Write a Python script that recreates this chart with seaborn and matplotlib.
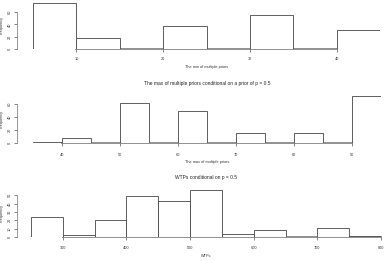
import numpy as np
import matplotlib
matplotlib.use("Agg")
import matplotlib.pyplot as plt
import seaborn as sns

sns.set_style("white")
plt.rcParams['font.family'] = ['Liberation Sans', 'DejaVu Sans']

# Panel 1: min of multiple priors
edges1 = [5, 10, 15, 20, 25, 30, 35, 40, 45]
counts1 = [75, 18, 0, 38, 0, 55, 0, 31]
xticks1 = [10, 20, 30, 40]
yticks1 = [0, 20, 40, 60]

# Panel 2: max of multiple priors conditional on p = 0.5
edges2 = [35, 40, 45, 50, 55, 60, 65, 70, 75, 80, 85, 90, 95]
counts2 = [1, 7, 0, 61, 0, 49, 0, 15, 0, 15, 0, 72]
xticks2 = [40, 50, 60, 70, 80, 90]
yticks2 = [0, 20, 40, 60]

# Panel 3: WTPs conditional on p = 0.5
edges3 = [250, 300, 350, 400, 450, 500, 550, 600, 650, 700, 750, 800]
counts3 = [24, 2, 20, 49, 43, 56, 4, 8, 0, 11, 1]
xticks3 = [300, 400, 500, 600, 700, 800]
yticks3 = [0, 10, 20, 30, 40, 50]

W, H = 387, 261
fig = plt.figure(figsize=(W / 100, H / 100), dpi=100)

panels = [
    dict(edges=edges1, counts=counts1, xt=xticks1, yt=yticks1, ymax=78,
         rect=(33, 380, 49), ppu=0.615, title=None,
         xlabel="The min of multiple priors", xlab_off=18, tick_off=9),
    dict(edges=edges2, counts=counts2, xt=xticks2, yt=yticks2, ymax=75,
         rect=(33, 381, 143), ppu=0.65,
         title="The max of multiple priors conditional on a prior of p = 0.5",
         xlabel="The max of multiple priors", xlab_off=19, tick_off=11),
    dict(edges=edges3, counts=counts3, xt=xticks3, yt=yticks3, ymax=58,
         rect=(31, 381, 237), ppu=0.833,
         title="WTPs conditional on p = 0.5",
         xlabel="WTPs", xlab_off=19, tick_off=10),
]

edge_col = "#444444"
axis_col = "#888888"
fs_tick = 2.8
fs_lab = 2.8
fs_title = 3.5

for p in panels:
    l, r, b = p["rect"]
    h = p["ymax"] * p["ppu"]
    ax = fig.add_axes([l / W, 1 - b / H, (r - l) / W, h / H])
    e = np.array(p["edges"], dtype=float)
    centers = (e[:-1] + e[1:]) / 2
    sns.histplot(x=centers, weights=p["counts"], bins=p["edges"], ax=ax,
                 color="white", edgecolor=edge_col, linewidth=0.6, alpha=1)
    ax.set_xlim(e[0], e[-1])
    ax.set_ylim(0, p["ymax"])
    for s in ["top", "right"]:
        ax.spines[s].set_visible(False)
    ax.spines["left"].set_position(("outward", (l - 17) * 0.72))
    ax.spines["left"].set_bounds(p["yt"][0], p["yt"][-1])
    ax.spines["left"].set_color(axis_col)
    ax.spines["left"].set_linewidth(0.6)
    ax.spines["bottom"].set_bounds(p["xt"][0], p["xt"][-1])
    ax.spines["bottom"].set_color(axis_col)
    ax.spines["bottom"].set_linewidth(1.3)
    ax.spines["bottom"].set_zorder(0.5)
    ax.set_xticks(p["xt"])
    ax.set_yticks(p["yt"])
    ax.set_yticklabels([str(v) for v in p["yt"]], rotation=90, va="center")
    ax.tick_params(axis="both", direction="out", length=2.2, width=0.5,
                   color="#555555", labelsize=fs_tick, labelcolor="#333333",
                   bottom=True, left=True)
    ax.tick_params(axis="x", pad=(p["tick_off"] - 2.2) * 0.72 - 1)
    ax.tick_params(axis="y", pad=1.5)
    ax.set_xlabel(p["xlabel"], fontsize=fs_lab, color="#333333")
    ax.xaxis.label.set_va("center")
    ax.set_ylabel("Frequency", fontsize=fs_lab, color="#333333")
    ax.yaxis.set_label_coords((4 - l) / (r - l), 0.5)
    if p["title"]:
        ax.set_title(p["title"], fontsize=fs_title, color="#222222", pad=7)
    ax.xaxis.set_label_coords(((l + r) / 2 - l) / (r - l), -p["xlab_off"] / h)

fig.savefig("out.png", dpi=100)
